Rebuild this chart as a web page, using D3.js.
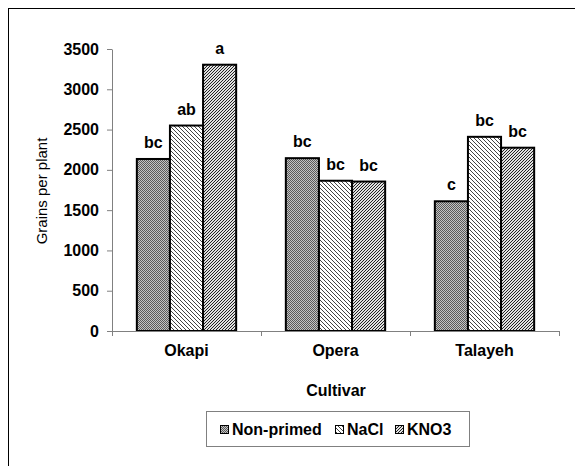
<!DOCTYPE html>
<meta charset="utf-8">
<script src="https://d3js.org/d3.v7.min.js"></script>
<style>
  body { margin: 0; background: #fff; }
  text { font-family: "Liberation Sans", Arial, sans-serif; }
</style>
<div id="my_dataviz"></div>
<script>

// data
var cultivars = ["Okapi", "Opera", "Talayeh"];
var treatments = ["Non-primed", "NaCl", "KNO3"];
var nonPrimed = [2135, 2145, 1610];
var nacl = [2550, 1865, 2410];
var kno3 = [3305, 1855, 2275];
var letters = [["bc", "ab", "a"], ["bc", "bc", "bc"], ["c", "bc", "bc"]];
var yTicks = [0, 500, 1000, 1500, 2000, 2500, 3000, 3500];

var series = [nonPrimed, nacl, kno3];

var svg = d3.select("#my_dataviz")
  .append("svg")
    .attr("width", 575)
    .attr("height", 466);

// outer frame (runs off right and bottom edges)
svg.append("rect")
  .attr("x", 8.5).attr("y", 8.5)
  .attr("width", 620).attr("height", 520)
  .attr("fill", "none")
  .attr("stroke", "#000")
  .attr("stroke-width", 1);

// fill patterns
var defs = svg.append("defs");

var p0 = defs.append("pattern")
  .attr("id", "pat0").attr("patternUnits", "userSpaceOnUse")
  .attr("width", 2).attr("height", 2);
p0.append("rect").attr("width", 2).attr("height", 2).attr("fill", "#c4c4c4");
p0.append("rect").attr("width", 1).attr("height", 1).attr("fill", "#5a5a5a");
p0.append("rect").attr("x", 1).attr("y", 1).attr("width", 1).attr("height", 1).attr("fill", "#5a5a5a");

var p1 = defs.append("pattern")
  .attr("id", "pat1").attr("patternUnits", "userSpaceOnUse")
  .attr("width", 4).attr("height", 4);
p1.append("rect").attr("width", 4).attr("height", 4).attr("fill", "#fff");
p1.append("path").attr("d", "M-1,-1 L5,5 M-1,3 L1,5 M3,-1 L5,1")
  .attr("stroke", "#444").attr("stroke-width", 1);

var p2 = defs.append("pattern")
  .attr("id", "pat2").attr("patternUnits", "userSpaceOnUse")
  .attr("width", 3).attr("height", 3);
p2.append("rect").attr("width", 3).attr("height", 3).attr("fill", "#e0e0e0");
p2.append("path").attr("d", "M-1,4 L4,-1 M-1,1 L1,-1 M2,4 L4,2")
  .attr("stroke", "#222").attr("stroke-width", 1);

var fills = ["url(#pat0)", "url(#pat1)", "url(#pat2)"];

var plotLeft = 112, plotRight = 559, plotTop = 49, plotBottom = 331;

var x = d3.scaleBand()
  .domain(cultivars)
  .range([plotLeft, plotRight])
  .paddingInner(0)
  .paddingOuter(0);

var xSub = d3.scaleBand()
  .domain(treatments)
  .range([0, x.bandwidth()])
  .paddingInner(0)
  .paddingOuter(0.75);

var y = d3.scaleLinear()
  .domain([0, 3500])
  .range([plotBottom, plotTop]);

// y axis
var yAxis = svg.append("g")
  .attr("transform", "translate(" + plotLeft + ",0)")
  .call(d3.axisLeft(y).tickValues(yTicks).tickFormat(d3.format("d")).tickSize(5).tickSizeOuter(0).tickPadding(8));
yAxis.selectAll("path, line").attr("stroke", "#808080");
yAxis.selectAll("text")
  .style("font-family", "Liberation Sans, Arial, sans-serif")
  .style("font-size", "16px")
  .style("font-weight", "bold")
  .attr("fill", "#000");

// bars
cultivars.forEach(function (c, i) {
  treatments.forEach(function (t, j) {
    var v = series[j][i];
    var bx = x(c) + xSub(t);
    svg.append("rect")
      .attr("x", bx)
      .attr("y", y(v))
      .attr("width", xSub.bandwidth())
      .attr("height", y(0) - y(v))
      .attr("fill", fills[j])
      .attr("stroke", "#000")
      .attr("stroke-width", 2);
    svg.append("text")
      .attr("x", bx + xSub.bandwidth() / 2)
      .attr("y", y(v) - 11)
      .attr("text-anchor", "middle")
      .style("font-size", "16px")
      .style("font-weight", "bold")
      .text(letters[i][j]);
  });
});

// x axis
var xAxis = svg.append("g")
  .attr("transform", "translate(0," + plotBottom + ")");
xAxis.append("line")
  .attr("x1", plotLeft).attr("x2", plotRight)
  .attr("y1", 0.5).attr("y2", 0.5)
  .attr("stroke", "#808080");
[plotLeft].concat(cultivars.map(function (c) { return x(c) + x.bandwidth(); }))
  .forEach(function (tx) {
    xAxis.append("line")
      .attr("x1", tx + 0.5).attr("x2", tx + 0.5)
      .attr("y1", 0).attr("y2", 5)
      .attr("stroke", "#808080");
  });
cultivars.forEach(function (c) {
  xAxis.append("text")
    .attr("x", x(c) + x.bandwidth() / 2)
    .attr("y", 25)
    .attr("text-anchor", "middle")
    .style("font-size", "16px")
    .style("font-weight", "bold")
    .text(c);
});

// axis titles
svg.append("text")
  .attr("x", 336)
  .attr("y", 396)
  .attr("text-anchor", "middle")
  .style("font-size", "16px")
  .style("font-weight", "bold")
  .text("Cultivar");

svg.append("text")
  .attr("transform", "translate(47,191) rotate(-90)")
  .attr("text-anchor", "middle")
  .style("font-size", "15px")
  .style("font-weight", "500")
  .text("Grains per plant");

// legend
var legend = svg.append("g");
legend.append("rect")
  .attr("x", 206.5).attr("y", 411.5)
  .attr("width", 263).attr("height", 35)
  .attr("fill", "#fff")
  .attr("stroke", "#808080");

var legX = [220, 335, 395];
treatments.forEach(function (t, j) {
  legend.append("rect")
    .attr("x", legX[j] + 0.5).attr("y", 425.5)
    .attr("width", 8).attr("height", 8)
    .attr("fill", fills[j])
    .attr("stroke", "#000");
  legend.append("text")
    .attr("x", legX[j] + 12)
    .attr("y", 435)
    .style("font-size", "16px")
    .style("font-weight", "bold")
    .text(t);
});

</script>
